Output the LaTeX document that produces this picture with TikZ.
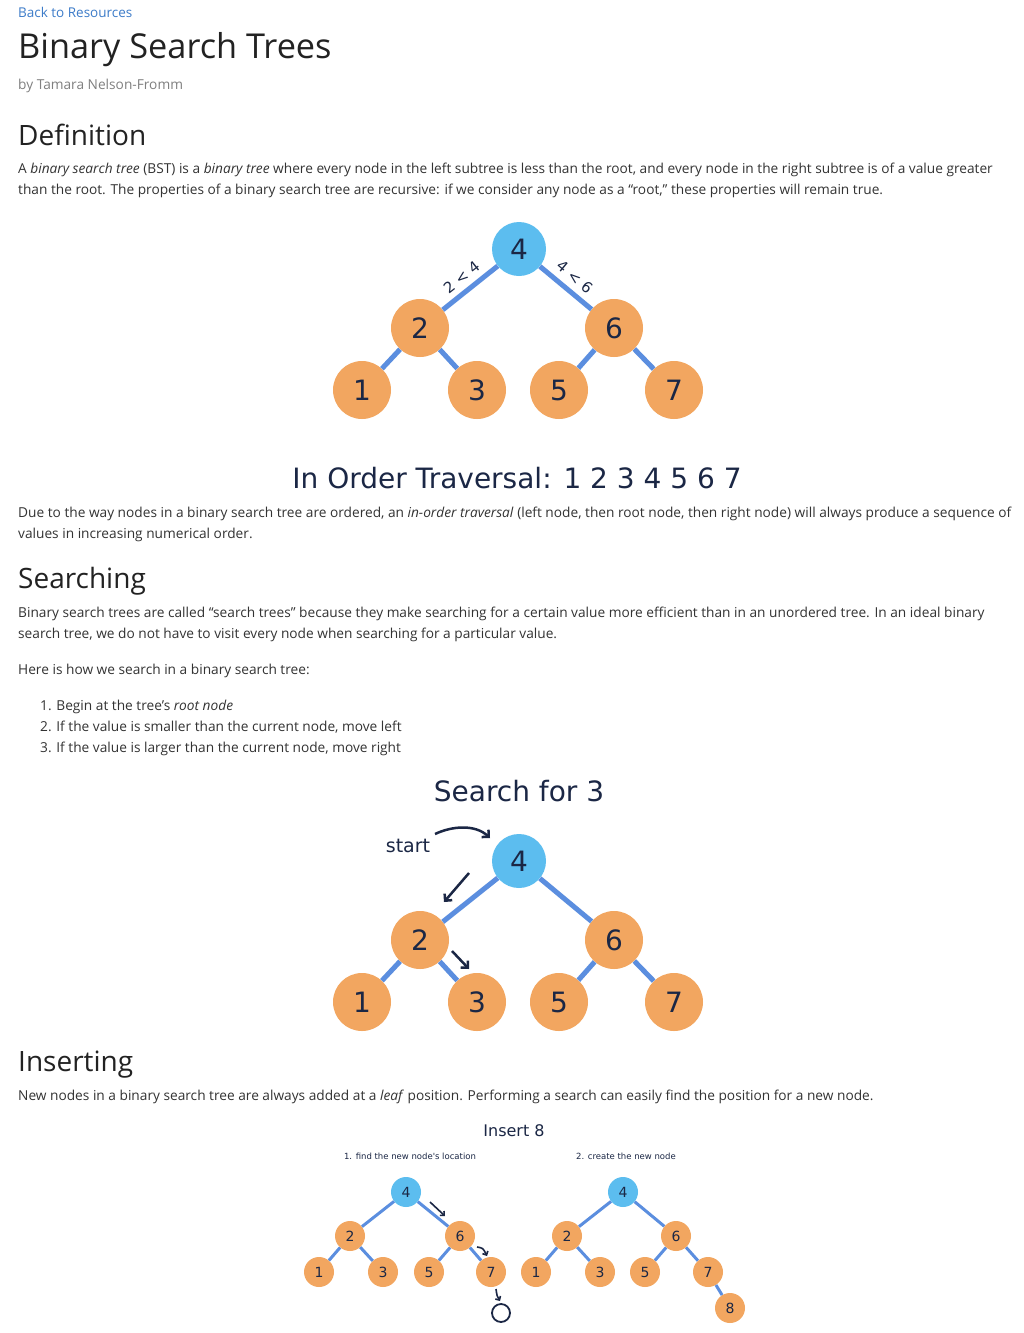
\documentclass[tikz,border=0pt]{standalone}
\usepackage{fontspec}
\setmainfont{Open Sans}
\newfontfamily\dv{DejaVu Sans}
\usetikzlibrary{arrows.meta}
\definecolor{txt}{HTML}{333333}
\definecolor{head}{HTML}{222222}
\definecolor{linkc}{HTML}{3D7CC9}
\definecolor{navy}{HTML}{1B2745}
\definecolor{orng}{HTML}{F2A660}
\definecolor{blu}{HTML}{5CBDEF}
\definecolor{edgec}{HTML}{5B8EDF}
\tikzset{
  body/.style={anchor=base west, inner sep=0pt, text=txt, font=\fontsize{13.7}{16}\selectfont},
  heading/.style={anchor=base west, inner sep=0pt, text=head, font=\fontsize{28}{32}\selectfont},
  bign/.style={circle, fill=orng, minimum size=58pt, inner sep=0pt, text=navy, font=\dv\fontsize{28}{32}\selectfont},
  bigr/.style={bign, fill=blu, minimum size=54pt},
  smn/.style={circle, fill=orng, minimum size=30pt, inner sep=0pt, text=navy, font=\dv\fontsize{14}{16}\selectfont},
  smr/.style={smn, fill=blu},
  bedge/.style={draw=edgec, line width=5pt},
  sedge/.style={draw=edgec, line width=3pt},
  elab/.style={sloped, above=6pt, inner sep=0pt, text=navy, font=\dv\fontsize{15}{18}\selectfont},
  dtitle/.style={text=navy, font=\dv\fontsize{28}{32}\selectfont},
  parrow/.style={draw=navy, line width=2.5pt, -{Straight Barb[length=5pt,width=10pt]}},
  sarrow/.style={draw=navy, line width=1.6pt, -{Straight Barb[length=3pt,width=6pt]}},
}
\begin{document}
\begin{tikzpicture}[x=1pt,y=-1pt]
\useasboundingbox (0,0) rectangle (1024,1333);
\fill[white] (0,0) rectangle (1024,1333);
% header
\node[body, text=linkc, font=\fontsize{13.5}{16}\selectfont] (back) at (18,17) {Back to Resources};
\node[anchor=base west, inner sep=0pt, text=head, font=\fontsize{34.3}{40}\selectfont] (title) at (18,58) {Binary Search Trees};
\node[body, text=gray] (by) at (18,89) {by Tamara Nelson-Fromm};
% Definition
\node[heading] (hdef) at (18,145) {Definition};
\node[body] (d1) at (18,173) {A \textit{binary search tree} (BST) is a \textit{binary tree} where every node in the left subtree is less than the root, and every node in the right subtree is of a value greater};
\node[body] (d2) at (18,194) {than the root. The properties of a binary search tree are recursive: if we consider any node as a “root,” these properties will remain true.};
% tree 1
\node[bigr] (a4) at (519,249) {4};
\node[bign] (a2) at (420,328) {2};
\node[bign] (a6) at (614,328) {6};
\node[bign] (a1) at (362,390) {1};
\node[bign] (a3) at (477,390) {3};
\node[bign] (a5) at (559,390) {5};
\node[bign] (a7) at (674,390) {7};
\path[bedge] (a2) -- node[elab] {2 < 4} (a4);
\path[bedge] (a4) -- node[elab] {4 < 6} (a6);
\path[bedge] (a2) -- (a1);
\path[bedge] (a2) -- (a3);
\path[bedge] (a6) -- (a5);
\path[bedge] (a6) -- (a7);
\node[dtitle] (inord) at (517,478) {In Order Traversal: 1 2 3 4 5 6 7};
\node[body] (t1) at (18,517) {Due to the way nodes in a binary search tree are ordered, an \textit{in-order traversal} (left node, then root node, then right node) will always produce a sequence of};
\node[body] (t2) at (18,538) {values in increasing numerical order.};
% Searching
\node[heading] (hsea) at (18,588) {Searching};
\node[body] (s1) at (18,617) {Binary search trees are called “search trees” because they make searching for a certain value more efficient than in an unordered tree. In an ideal binary};
\node[body] (s2) at (18,638) {search tree, we do not have to visit every node when searching for a particular value.};
\node[body] (s3) at (18,674) {Here is how we search in a binary search tree:};
\node[body] (l1) at (40,710) {1. Begin at the tree’s \textit{root node}};
\node[body] (l2) at (40,731) {2. If the value is smaller than the current node, move left};
\node[body] (l3) at (40,752) {3. If the value is larger than the current node, move right};
% tree 2
\node[dtitle] (sfor) at (519,791) {Search for 3};
\node[bigr] (b4) at (519,861) {4};
\node[bign] (b2) at (420,940) {2};
\node[bign] (b6) at (614,940) {6};
\node[bign] (b1) at (362,1002) {1};
\node[bign] (b3) at (477,1002) {3};
\node[bign] (b5) at (559,1002) {5};
\node[bign] (b7) at (674,1002) {7};
\path[bedge] (b2) -- (b4);
\path[bedge] (b4) -- (b6);
\path[bedge] (b2) -- (b1);
\path[bedge] (b2) -- (b3);
\path[bedge] (b6) -- (b5);
\path[bedge] (b6) -- (b7);
\node[text=navy, font=\dv\fontsize{19}{22}\selectfont] (start) at (408,846) {start};
\coordinate (st0) at (435,834);
\coordinate (st1) at (490,838);
\draw[parrow] (st0) .. controls (452,826) and (475,824) .. (st1);
\coordinate (m0) at (469,873);
\coordinate (m1) at (444,902);
\draw[parrow] (m0) -- (m1);
\coordinate (r0) at (452,951);
\coordinate (r1) at (469,969);
\draw[parrow] (r0) -- (r1);
% Inserting
\node[heading] (hins) at (18,1071) {Inserting};
\node[body] (i1) at (18,1100) {New nodes in a binary search tree are always added at a \textit{leaf} position. Performing a search can easily find the position for a new node.};
\node[text=navy, font=\dv\fontsize{16}{18}\selectfont] (ins) at (514,1131) {Insert 8};
\node[text=navy, font=\dv\fontsize{8.5}{10}\selectfont] (cap1) at (410,1156) {1. find the new node's location};
\node[text=navy, font=\dv\fontsize{8.5}{10}\selectfont] (cap2) at (626,1156) {2. create the new node};
% small tree left
\node[smr] (c4) at (406,1192) {4};
\node[smn] (c2) at (350,1236) {2};
\node[smn] (c6) at (460,1236) {6};
\node[smn] (c1) at (319,1272) {1};
\node[smn] (c3) at (383,1272) {3};
\node[smn] (c5) at (429,1272) {5};
\node[smn] (c7) at (491,1272) {7};
\node[circle, draw=navy, line width=1.8pt, minimum size=18pt, inner sep=0pt] (c8) at (501,1313) {};
\path[sedge] (c2) -- (c4);
\path[sedge] (c4) -- (c6);
\path[sedge] (c2) -- (c1);
\path[sedge] (c2) -- (c3);
\path[sedge] (c6) -- (c5);
\path[sedge] (c6) -- (c7);
\coordinate (q0) at (430,1202);
\coordinate (q1) at (445,1216);
\draw[sarrow] (q0) -- (q1);
\coordinate (q2) at (477,1247);
\coordinate (q3) at (487,1256);
\draw[sarrow] (q2) .. controls (483,1248) .. (q3);
\coordinate (q4) at (496,1289);
\coordinate (q5) at (500,1301);
\draw[sarrow] (q4) .. controls (497,1296) .. (q5);
% small tree right
\node[smr] (e4) at (623,1192) {4};
\node[smn] (e2) at (567,1236) {2};
\node[smn] (e6) at (676,1236) {6};
\node[smn] (e1) at (536,1272) {1};
\node[smn] (e3) at (600,1272) {3};
\node[smn] (e5) at (645,1272) {5};
\node[smn] (e7) at (708,1272) {7};
\node[smn] (e8) at (730,1308) {8};
\path[sedge] (e2) -- (e4);
\path[sedge] (e4) -- (e6);
\path[sedge] (e2) -- (e1);
\path[sedge] (e2) -- (e3);
\path[sedge] (e6) -- (e5);
\path[sedge] (e6) -- (e7);
\path[sedge] (e7) -- (e8);
\end{tikzpicture}
\end{document}
